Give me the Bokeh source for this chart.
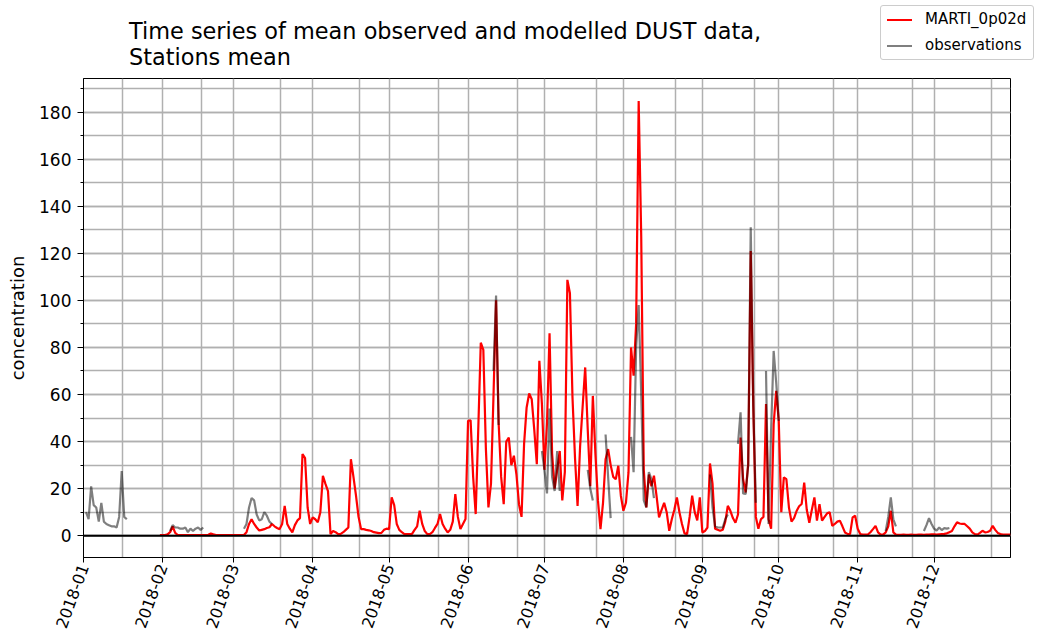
import numpy as np
import pandas as pd
from bokeh.plotting import figure
from bokeh.layouts import column
from bokeh.models import (FixedTicker, DatetimeTickFormatter, Span, Div,
                          SingleIntervalTicker, Range1d, ColumnDataSource)
from bokeh.embed import file_html
from bokeh.resources import INLINE

N = None
# ---- data: daily 2018 station-mean DUST concentration ----
model_jan = [N] * 30 + [0.3]
model_feb = [0.3, 0.3, 0.6, 1.5, 4.0, 1.2, 0.3, 0.3, 0.3, 0.3, 0.3, 0.3, 0.3, 0.3,
             0.3, 0.3, 0.3, 0.3, 0.4, 0.9, 0.6, 0.3, 0.3, 0.3, 0.3, 0.3, 0.3, 0.3]
model_mar = [0.3, 0.3, 0.3, 0.3, 0.3, 1.5, 5, 7, 5, 3.5, 2.2, 2.5, 2.8, 3.3, 3.6, 5,
             4, 3.3, 2.8, 5, 12.7, 5, 3, 1.4, 4.5, 6.5, 7.5, 34.7, 33, 12, 5]
model_apr = [7.8, 7, 5.7, 10, 25.5, 22, 19, 0.7, 2, 1.5, 0.7, 0.8, 1.5, 2.5, 3.5,
             32.5, 25, 17, 8, 2.8, 2.8, 2.5, 2.3, 2, 1.5, 1.3, 1.1, 1.2, 2.5, 3]
model_may = [2.8, 16.3, 13, 5, 2.5, 1.5, 0.7, 0.7, 0.7, 0.8, 2.5, 4, 10.6, 5, 2, 0.7,
             0.7, 1.5, 3.3, 5, 9.2, 5, 3, 1.4, 2.5, 6, 17.7, 8, 2.8, 5, 7.1]
model_jun = [48.8, 49, 25, 9.2, 45, 82, 79, 37, 12, 22, 60, 100, 48, 25, 13.4, 40,
             41.7, 30, 34, 26, 13.4, 8, 39, 54.5, 60.4, 58, 45, 30.4, 74.3, 56]
model_jul = [28, 48, 86, 35, 20, 28, 36, 15, 27, 108.7, 103, 59, 33, 12.7, 38, 55,
             71.5, 45, 21, 59.4, 35, 15, 2.8, 14, 32.5, 36.8, 30, 25, 24, 29.7, 17]
model_aug = [10.6, 14, 26.9, 80, 68, 90, 184.7, 127, 28, 12, 26, 21, 25.5, 17, 7.8,
             11, 14, 10, 2.1, 7, 11, 16.3, 10, 5, 1, 0.7, 8, 17, 10, 6.5, 16.3]
model_sep = [1.4, 2, 3.5, 30.7, 22, 3, 2.5, 2.1, 2.5, 6, 12.7, 10.6, 7.5, 5.5, 9,
             41.7, 24, 18.4, 30.4, 121, 55, 8, 3, 7, 8, 56, 7, 3, 47.4, 61.6]
model_oct = [48.8, 10, 24.8, 24, 12, 6, 7.5, 10.5, 12.5, 13.5, 22.6, 11, 5.5, 11,
             16.3, 6.4, 13.4, 6.4, 8, 9.5, 10, 4.2, 5, 6, 6.4, 4, 1.4, 0.8, 0.7, 7.8, 8.5]
model_nov = [3, 0.7, 0.5, 0.5, 0.5, 1.5, 2.8, 4.2, 1.4, 0.5, 0.5, 1.4, 4, 10.6, 1.4,
             0.5, 0.4, 0.4, 0.5, 0.4, 0.4, 0.5, 0.4, 0.4, 0.5, 0.5, 0.4, 0.5, 0.5, 0.6]
model_dec = [0.6, 0.5, 0.6, 0.7, 0.8, 1.0, 1.5, 2, 4, 5.7, 5.2, 5, 5, 4, 3, 1.4, 0.7,
             0.5, 1.2, 2.1, 1.4, 1.6, 2.1, 4.2, 2.5, 1.2, 0.7, 0.5, 0.5, 0.5, 0.5]

obs_jan = [N, 10, 7, 21, 13, 12, 6, 14, 6, 5, 4.5, 4, 4, 3.5, 8, 27.5, 8, 7] + [N] * 13
obs_feb = [N, N, N, 2, 4.5, 3.5, 3.5, 3, 3, 3.5, 1.5, 3, 2, 3, 3.5, 2.5, 3.5] + [N] * 11
obs_mar = [N, N, N, N, 3, 5, 12, 16, 15, 9, 6.5, 7, 10, 8.5, 6, 5] + [N] * 15
obs_apr = [N] * 30
obs_may = [N] * 31
obs_jun = [N] * 10 + [70, 102, 47] + [N] * 16 + [36]
obs_jul = [28, 18, 54, 25, 19, 36, 19] + [N] * 10 + [28, 20, 15] + [N] * 4 + [43, 25, 7.5] + [N] * 4
obs_aug = [N, N, N, 42, 27, 80, 98, 60, 15, 12, 27, 24, 16] + [N] * 18
obs_sep = ([N, N, N, 26, 12, 4, 3.5, 3.5, 3.5, 7, 9, N, N, N, 39, 52.4, 18, 17.7, 30,
            131, 55, 14, N, N, N, 70, 5, 45, 78.5, 65])
obs_oct = [48.8] + [N] * 30
obs_nov = [N] * 11 + [2, 8, 16.3, 7, 4] + [N] * 10 + [2, 4.5, 7.5, 5]
obs_dec = [3, 2.2, 3.5, 2.4, 3.2, 3, 3.3] + [N] * 24

series_names = ["MARTI_0p02d", "observations"]
title_lines = ["Time series of mean observed and modelled DUST data,", "Stations mean"]

model = (model_jan + model_feb + model_mar + model_apr + model_may + model_jun +
         model_jul + model_aug + model_sep + model_oct + model_nov + model_dec)
obs = (obs_jan + obs_feb + obs_mar + obs_apr + obs_may + obs_jun +
       obs_jul + obs_aug + obs_sep + obs_oct + obs_nov + obs_dec)

dates = pd.date_range("2018-01-01", "2018-12-31", freq="D")
to_f = lambda arr: np.array([np.nan if v is None else v for v in arr], dtype=float)
src = ColumnDataSource(dict(date=dates, model=to_f(model), obs=to_f(obs)))

FONT = "DejaVu Sans"
RED = "#ff0000"
W = 1039

# ---------------- header: title + legend (HTML) ----------------
legend_rows = ""
for i, (name, col) in enumerate(zip(series_names, [RED, "rgba(0,0,0,0.5)"])):
    top = 14 + 26 * i
    legend_rows += (
        f'<div style="position:absolute;left:6px;top:{top - 1}px;width:25px;height:2px;'
        f'background:{col};"></div>'
        f'<div style="position:absolute;left:44px;top:{top - 10}px;line-height:19px;'
        f'font-size:15px;white-space:nowrap;color:black;">{name}</div>')
html = (
    f'<div style="position:relative;width:{W}px;height:77px;font-family:\'{FONT}\';'
    f'background:white;">'
    f'<div style="position:absolute;left:129px;top:18px;font-size:22.4px;line-height:26px;'
    f'white-space:nowrap;color:black;">{title_lines[0]}<br>{title_lines[1]}</div>'
    f'<div style="position:absolute;left:880px;top:5px;width:154px;height:55px;'
    f'border:1px solid #cccccc;border-radius:3px;background:white;">{legend_rows}</div>'
    f'</div>')
hdr = Div(text=html, width=W, height=77, margin=(0, 0, 0, 0))

# ---------------- main plot ----------------
p = figure(width=W, height=557, x_axis_type="datetime", output_backend="svg",
           toolbar_location=None, title=None,
           min_border_left=83, min_border_right=29, min_border_top=1, min_border_bottom=77,
           x_range=Range1d(dates[0], dates[-1]), y_range=Range1d(-9.25, 194.25))

month_starts = pd.date_range("2018-01-01", periods=12, freq="MS")
major_ms = [int(t.value // 10**6) for t in month_starts]
day_ms = 86400000
minor_ms = [major_ms[0] + int((15.5 + 31 * k) * day_ms) for k in range(12)]
p.xaxis.ticker = FixedTicker(ticks=major_ms, minor_ticks=minor_ms)
p.xaxis.formatter = DatetimeTickFormatter(days="%Y-%m", months="%Y-%m", years="%Y-%m",
                                          hours="%Y-%m", context=None)
p.xaxis.major_label_orientation = np.deg2rad(70)
p.xaxis.minor_tick_out = 0
p.xaxis.minor_tick_in = 0
p.xaxis.major_tick_out = 5
p.xaxis.major_tick_in = 0
p.xaxis.major_label_standoff = 2
p.xaxis.major_label_text_font_size = "16px"

p.yaxis.ticker = SingleIntervalTicker(interval=20, num_minor_ticks=2)
p.yaxis.major_tick_out = 6
p.yaxis.major_tick_in = 0
p.yaxis.minor_tick_out = 3
p.yaxis.minor_tick_in = 0
p.yaxis.major_label_standoff = 6
p.yaxis.major_label_text_font_size = "17px"
p.yaxis.axis_label = "concentration"
p.yaxis.axis_label_text_font_style = "normal"
p.yaxis.axis_label_text_font_size = "18px"
p.yaxis.axis_label_text_font = FONT
p.yaxis.axis_label_text_color = "black"
p.yaxis.axis_label_standoff = 8

for ax in (p.xaxis, p.yaxis):
    ax.major_label_text_font = FONT
    ax.major_label_text_color = "black"
    ax.axis_line_color = "black"
    ax.major_tick_line_color = "black"
    ax.minor_tick_line_color = "black"

for g in (p.xgrid, p.ygrid):
    g.grid_line_color = "#b0b0b0"
    g.grid_line_width = 1.5
    g.minor_grid_line_color = "#b0b0b0"
    g.minor_grid_line_width = 1.5

p.outline_line_color = "black"
p.outline_line_width = 1
p.background_fill_color = "white"
p.border_fill_color = "white"

r_model = p.line("date", "model", source=src, line_color=RED, line_width=2.2)
r_obs = p.line("date", "obs", source=src, line_color="black", line_alpha=0.5, line_width=2.2)
p.add_layout(Span(location=0, dimension="width", line_color="black", line_width=2.2))

layout = column(hdr, p, spacing=0)
open("out.html", "w").write(file_html(layout, INLINE))
